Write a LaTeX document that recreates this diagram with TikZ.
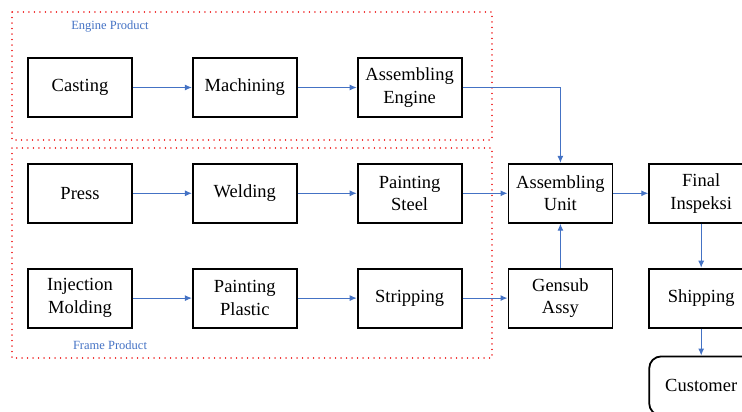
\documentclass[tikz,border=0pt]{standalone}
\usepackage{fontspec}
\setmainfont{Liberation Serif}
\usetikzlibrary{positioning}
\usetikzlibrary{arrows.meta}
\tikzset{>={Latex[width=6pt,length=7pt]}}
\definecolor{flow_blue}{RGB}{68, 114, 196}
\definecolor{group_red}{RGB}{240, 40, 40}

\begin{document}
\begin{tikzpicture}[
		x=1pt, y=-1pt,
		every node/.style={font=\fontsize{18.5}{22.5}\selectfont},
		proc/.style={draw, line width=1.8pt, minimum width=104pt, minimum height=59pt, align=center},
		flow/.style={->, draw=flow_blue, line width=1pt},
		groupbox/.style={draw=group_red, line width=1.4pt, dash pattern=on 0.1pt off 5.4pt, line cap=round},
		grouplabel/.style={text=flow_blue, font=\fontsize{12.5}{14}\selectfont},
	]
	% fix the page to the reference size
	\clip (0,0) rectangle (742,412);

	% product groups
	\draw[groupbox] (12,12) rectangle (492,140);
	\draw[groupbox] (12,148) rectangle (492,358);
	\node[grouplabel] (enginelabel) at (110,27) {Engine Product};
	\node[grouplabel] (framelabel) at (110,345) {Frame Product};

	% engine line
	\node[proc] (casting) at (80,87.5) {Casting};
	\node[proc, right=59pt of casting] (machining) {Machining};
	\node[proc, right=59pt of machining] (asmengine) {Assembling\\Engine};

	% frame line
	\node[proc, below=45pt of casting] (press) {Press};
	\node[proc, right=59pt of press] (welding) {Welding};
	\node[proc, right=59pt of welding] (paintsteel) {Painting\\Steel};

	\node[proc, below=44pt of press] (injection) {Injection\\Molding};
	\node[proc, right=59pt of injection] (paintplastic) {Painting\\Plastic};
	\node[proc, right=59pt of paintplastic] (stripping) {Stripping};

	% final assembly
	\node[proc, right=45pt of paintsteel] (asmunit) {Assembling\\Unit};
	\node[proc, right=45pt of stripping] (gensub) {Gensub\\Assy};
	\node[proc, right=35pt of asmunit] (final) {Final\\Inspeksi};
	\node[proc, below=44pt of final] (shipping) {Shipping};
	\node[proc, rounded corners=12pt, below=27pt of shipping] (customer) {Customer};

	\draw[flow] (casting) -- (machining);
	\draw[flow] (machining) -- (asmengine);
	\draw[flow] (press) -- (welding);
	\draw[flow] (welding) -- (paintsteel);
	\draw[flow] (injection) -- (paintplastic);
	\draw[flow] (paintplastic) -- (stripping);

	\draw[flow] (asmengine.east) -| (asmunit.north);
	\draw[flow] (paintsteel) -- (asmunit);
	\draw[flow] (stripping) -- (gensub);
	\draw[flow] (gensub) -- (asmunit);
	\draw[flow] (asmunit) -- (final);
	\draw[flow] (final) -- (shipping);
	\draw[flow] (shipping) -- (customer);

\end{tikzpicture}
\end{document}
